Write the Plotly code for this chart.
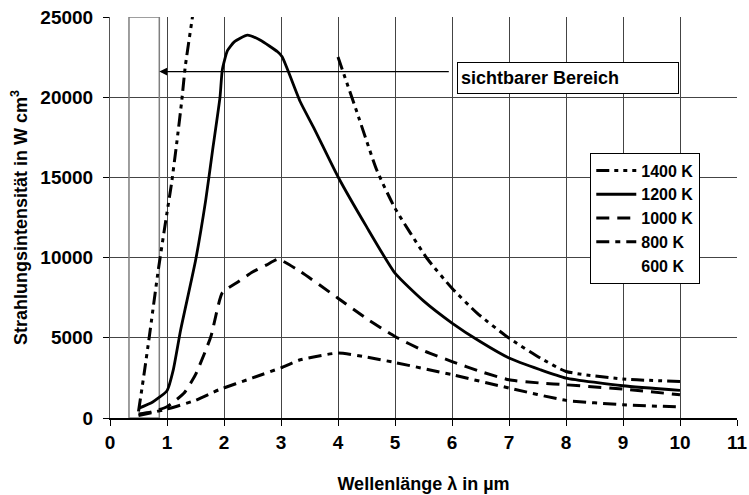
import plotly.graph_objects as go

# ---- data ----
x_1400 = [0.5, 0.6, 0.69, 0.85, 1.0, 1.08, 1.17, 1.26, 1.32, 1.43, 1.5, None,
          4.0, 4.33, 4.68, 5.0, 5.56, 6.0, 6.44, 7.0, 7.55, 8.0, 9.0, 10.0]
y_1400 = [400, 2800, 5080, 9300, 12800, 14630, 17120, 19820, 21900, 24600, 26300, None,
          22500, 19090, 15460, 13080, 9960, 8090, 6540, 4980, 3740, 2900, 2430, 2280]

x_1200 = [0.5, 0.75, 1.0, 1.11, 1.24, 1.5, 1.68, 1.8, 1.93, 1.97, 2.06, 2.18, 2.41,
          2.64, 2.94, 3.02, 3.34, 3.58, 4.0, 4.5, 5.0, 5.5, 6.0, 6.5, 7.0, 7.55,
          8.0, 9.0, 10.0]
y_1200 = [600, 1000, 1700, 3000, 5500, 9800, 13600, 16700, 20000, 21700, 22900, 23450,
          23870, 23550, 22830, 22520, 19700, 18060, 15040, 11930, 9030, 7300, 5920,
          4750, 3740, 3010, 2490, 2010, 1720]

x_1000 = [0.5, 0.75, 1.0, 1.3, 1.5, 1.77, 1.97, 2.25, 2.5, 2.75, 2.95, 3.34, 4.0,
          4.5, 5.0, 5.5, 6.0, 6.5, 7.0, 7.55, 8.0, 9.0, 10.0]
y_1000 = [250, 400, 700, 1560, 2700, 5080, 7800, 8500, 9100, 9550, 9900, 9130, 7470,
          6200, 5080, 4200, 3520, 2900, 2380, 2180, 2070, 1800, 1450]

x_800 = [0.5, 1.0, 1.5, 1.91, 2.5, 3.0, 3.34, 4.0, 4.5, 5.0, 6.0, 7.0, 8.0, 9.0, 10.0]
y_800 = [150, 560, 1100, 1760, 2500, 3130, 3630, 4050, 3800, 3460, 2700, 1870, 1100,
         830, 685]

x_600 = [0.5, 1.0, 2.0, 3.0, 4.0, 5.0, 6.0, 7.0, 8.0, 9.0, 10.0]
y_600 = [0, 5, 150, 500, 800, 850, 780, 680, 580, 480, 400]

x_ticks = list(range(0, 12))
y_ticks = [0, 5000, 10000, 15000, 20000, 25000]

visible_range = [0.333, 0.865]
arrow_y = 21600
arrow_tail_x = 5.97
label_text = "sichtbarer Bereich"

FONT = "Liberation Sans, Arial, sans-serif"

fig = go.Figure()

series = [
    ("1400 K", x_1400, y_1400, dict(color="black", width=3, dash="13px,5px,4px,5px,4px,5px")),
    ("1200 K", x_1200, y_1200, dict(color="black", width=2.8, dash="solid")),
    ("1000 K", x_1000, y_1000, dict(color="black", width=3, dash="13px,8px")),
    ("800 K", x_800, y_800, dict(color="black", width=3, dash="13px,6px,5px,6px")),
    ("600 K", x_600, y_600, dict(color="rgba(0,0,0,0)", width=1)),
]
for name, xs, ys, ln in series:
    ln = dict(ln)
    ln["shape"] = "spline"
    ln["smoothing"] = 0.5
    fig.add_trace(go.Scatter(x=xs, y=ys, mode="lines", name=name, line=ln,
                             connectgaps=False, legendgroup=name))

# visible range box
fig.add_shape(type="rect", x0=visible_range[0], x1=visible_range[1], y0=0, y1=25000,
              xref="x", yref="y", line=dict(color="#7f7f7f", width=1.5),
              fillcolor="rgba(0,0,0,0)", layer="between")

# arrow
fig.add_annotation(x=visible_range[1], y=arrow_y, ax=arrow_tail_x, ay=arrow_y,
                   xref="x", yref="y", axref="x", ayref="y", text="",
                   showarrow=True, arrowhead=2, arrowsize=1.3, arrowwidth=1.2,
                   arrowcolor="black", standoff=0, startstandoff=0)

# label box
fig.add_annotation(x=6.085, y=21220, xref="x", yref="y", text=label_text,
                   showarrow=False, xanchor="left", yanchor="middle", align="left",
                   width=214, height=24, borderpad=3, bordercolor="black",
                   borderwidth=1, bgcolor="white",
                   font=dict(family=FONT, size=18, color="black", weight="bold"))

fig.update_layout(
    width=749, height=495,
    margin=dict(l=110, r=12, t=17, b=77, autoexpand=False),
    paper_bgcolor="white", plot_bgcolor="white",
    font=dict(family=FONT, color="black"),
    showlegend=True,
    legend=dict(x=0.766, y=0.662, xanchor="left", yanchor="top",
                bordercolor="black", borderwidth=1, bgcolor="white",
                font=dict(family=FONT, size=16, color="black", weight="bold"),
                itemwidth=40, tracegroupgap=3, traceorder="normal"),
)

fig.update_xaxes(range=[0, 11], tickvals=x_ticks, ticktext=[str(t) for t in x_ticks],
                 automargin=False,
                 showgrid=True, gridcolor="#444", gridwidth=1,
                 showline=True, linecolor="black", linewidth=2,
                 ticks="outside", ticklen=6, tickcolor="black", tickwidth=1,
                 zeroline=False, mirror=False,
                 tickfont=dict(family=FONT, size=19, color="black", weight="bold"),
                 title=dict(text="Wellenlänge λ in µm", standoff=26,
                            font=dict(family=FONT, size=18, color="black", weight="bold")))
fig.update_yaxes(range=[0, 25000], tickvals=y_ticks, ticktext=[str(t) for t in y_ticks],
                 automargin=False,
                 showgrid=True, gridcolor="#444", gridwidth=1,
                 showline=True, linecolor="#555", linewidth=1,
                 ticks="outside", ticklen=6, tickcolor="black", tickwidth=1,
                 zeroline=False, ticklabelstandoff=6,
                 tickfont=dict(family=FONT, size=19, color="black", weight="bold"),
                 title=dict(text="Strahlungsintensität in W cm<sup>3</sup>", standoff=8,
                            font=dict(family=FONT, size=18, color="black", weight="bold")))

fig.write_html("out.html")
